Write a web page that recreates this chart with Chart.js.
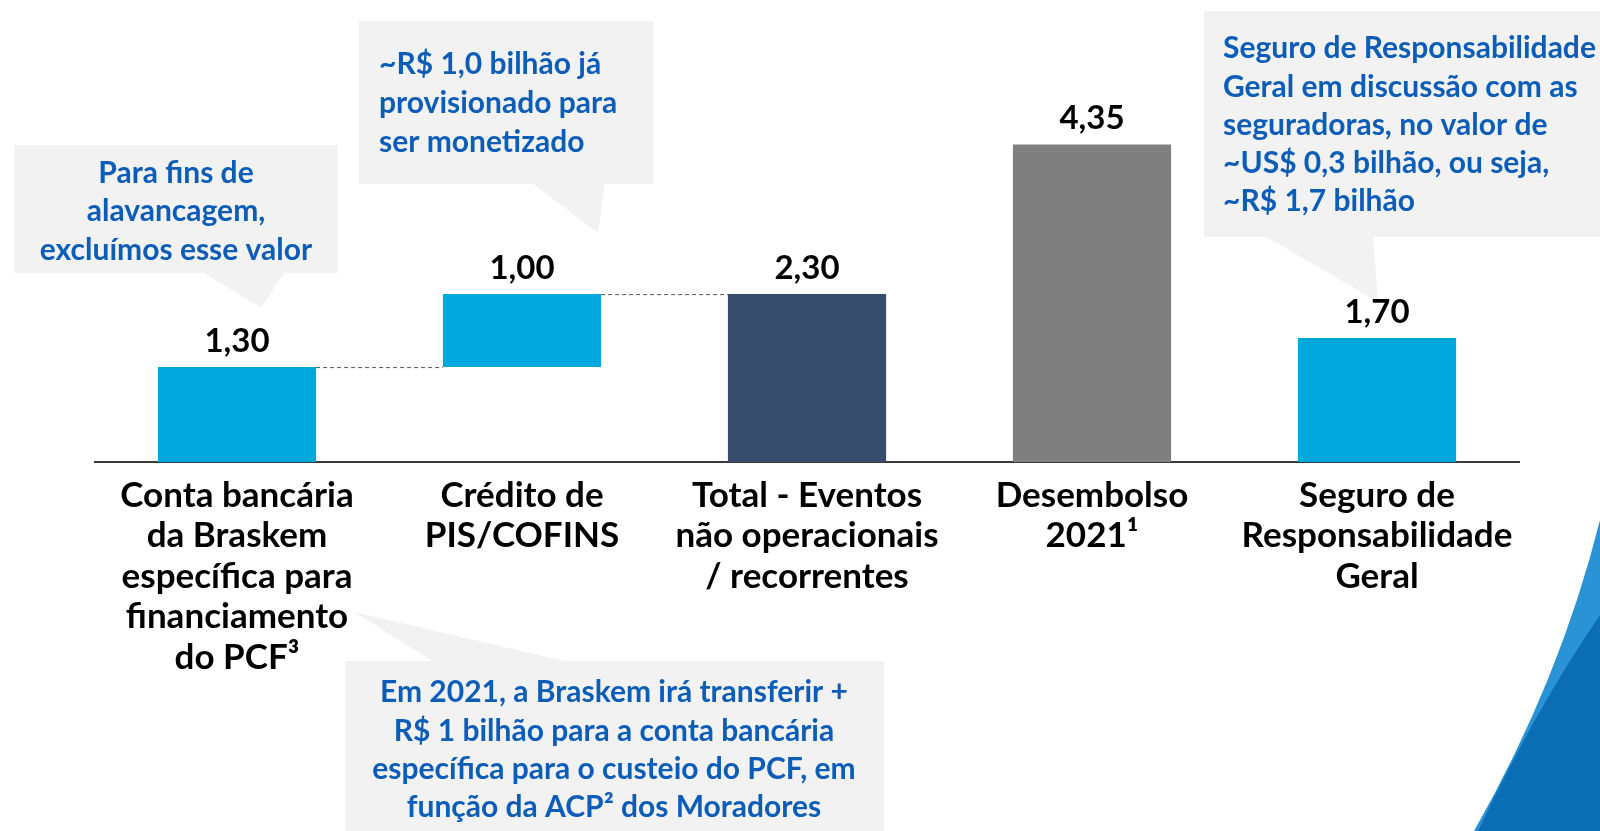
<!DOCTYPE html>
<html>
<head>
<meta charset="utf-8">
<script src="https://cdn.jsdelivr.net/npm/chart.js@4.4.1/dist/chart.umd.min.js"></script>
<style>
  body { margin: 0; background: #fff; }
  canvas { display: block; }
</style>
</head>
<body>
<canvas id="myChart" width="1600" height="831"></canvas>
<script>
// data
const categories = [
  ["Conta bancária", "da Braskem", "específica para", "financiamento", "do PCF³"],
  ["Crédito de", "PIS/COFINS"],
  ["Total - Eventos", "não operacionais", "/ recorrentes"],
  ["Desembolso", "2021¹"],
  ["Seguro de", "Responsabilidade", "Geral"],
];
const values = [1.30, 1.00, 2.30, 4.35, 1.70];
const barStarts = [0, 1.30, 0, 0, 0];
const barColors = ["#00A8DE", "#00A8DE", "#384C6C", "#7F7F7F", "#00A8DE"];

// callout texts
const note1 = ["Para fins de", "alavancagem,", "excluímos esse valor"];
const note2 = ["~R$ 1,0 bilhão já", "provisionado para", "ser monetizado"];
const note3 = ["Seguro de Responsabilidade", "Geral em discussão com as", "seguradoras, no valor de", "~US$ 0,3 bilhão, ou seja,", "~R$ 1,7 bilhão"];
const note4 = ["Em 2021, a Braskem irá transferir +", "R$ 1 bilhão para a conta bancária", "específica para o custeio do PCF, em", "função da ACP² dos Moradores"];

const FONT = "Lato, 'Open Sans', sans-serif";
const noteColor = "#0C5DB8";
const boxColor = "#F2F2F2";

const callouts = [
  { lines: note1, box: [14, 145, 338, 273], tri: [[204, 273], [284, 273], [261, 308]], align: "center", tx: 176, ty: [173, 211, 250] },
  { lines: note2, box: [359, 21, 653, 184], tri: [[532, 183], [605, 183], [598, 233]], align: "left", tx: 379, ty: [64, 103, 142] },
  { lines: note3, box: [1204, 11, 1600, 237], tri: [[1265, 236], [1373, 236], [1378, 302]], align: "left", tx: 1223, ty: [48, 87, 125, 163, 201] },
  { lines: note4, box: [345, 661, 884, 831], tri: [[434, 662], [569, 662], [354, 612]], align: "center", tx: 614, ty: [692, 731, 769, 807] },
];

const backdrop = {
  id: "backdrop",
  beforeDraw(chart) {
    const c = chart.ctx;
    c.save();
    // blue swoosh bottom right
    c.fillStyle = "#2A93D5";
    c.beginPath();
    c.moveTo(1474, 831);
    c.quadraticCurveTo(1560, 680, 1600, 520);
    c.lineTo(1600, 831);
    c.closePath();
    c.fill();
    c.fillStyle = "#0B6DB4";
    c.beginPath();
    c.moveTo(1478, 831);
    c.quadraticCurveTo(1535, 710, 1600, 615);
    c.lineTo(1600, 831);
    c.closePath();
    c.fill();

    // callout boxes
    callouts.forEach(n => {
      c.fillStyle = boxColor;
      const [x1, y1, x2, y2] = n.box;
      c.fillRect(x1, y1, x2 - x1, y2 - y1);
      c.beginPath();
      c.moveTo(n.tri[0][0], n.tri[0][1]);
      c.lineTo(n.tri[1][0], n.tri[1][1]);
      c.lineTo(n.tri[2][0], n.tri[2][1]);
      c.closePath();
      c.fill();
      c.fillStyle = noteColor;
      c.font = "bold 30px " + FONT;
      c.textAlign = n.align;
      c.textBaseline = "middle";
      n.lines.forEach((t, i) => c.fillText(t, n.tx, n.ty[i]));
    });
    c.restore();
  },
};

const barExtras = {
  id: "barExtras",
  afterDatasetsDraw(chart) {
    const c = chart.ctx;
    const bars = chart.getDatasetMeta(0).data;
    c.save();
    // dashed connectors
    c.strokeStyle = "#555";
    c.lineWidth = 1;
    c.setLineDash([4, 3]);
    [0, 1].forEach(i => {
      const a = bars[i], b = bars[i + 1];
      c.beginPath();
      c.moveTo(a.x + a.width / 2, a.y + 0.5);
      c.lineTo(b.x - b.width / 2, a.y + 0.5);
      c.stroke();
    });
    c.setLineDash([]);
    // value labels
    c.fillStyle = "#000";
    c.font = "bold 33px " + FONT;
    c.textAlign = "center";
    c.textBaseline = "middle";
    bars.forEach((el, i) => {
      c.fillText(values[i].toFixed(2).replace(".", ","), el.x, el.y - 26);
    });
    c.restore();
  },
};

const ctx = document.getElementById("myChart");

const myChart = new Chart(ctx, {
  type: "bar",
  data: {
    labels: categories,
    datasets: [
      {
        data: values.map((v, i) => [barStarts[i], barStarts[i] + v]),
        backgroundColor: barColors,
        borderWidth: 0,
        categoryPercentage: 0.555,
        barPercentage: 1,
      },
    ],
  },
  options: {
    responsive: false,
    animation: false,
    layout: {
      padding: { left: 94.5, right: 80.5, top: 97, bottom: 0 },
    },
    plugins: {
      legend: false,
      tooltip: false,
    },
    scales: {
      x: {
        grid: { display: false, drawTicks: false },
        border: { display: true, color: "#3a3a3a", width: 2 },
        ticks: {
          color: "#000",
          font: { family: FONT, size: 35, weight: "bold", lineHeight: 1.16 },
          padding: 13,
          maxRotation: 0,
          autoSkip: false,
        },
        afterFit(scale) {
          scale.height = 369;
        },
      },
      y: {
        display: false,
        min: 0,
        max: 5,
      },
    },
  },
  plugins: [backdrop, barExtras],
});
</script>
</body>
</html>
